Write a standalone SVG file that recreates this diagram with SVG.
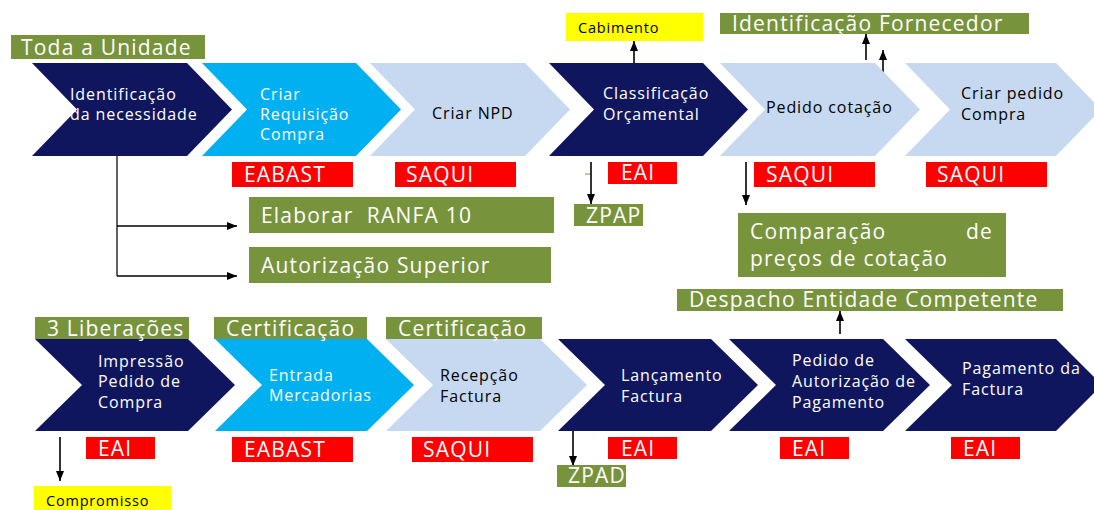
<svg xmlns="http://www.w3.org/2000/svg" width="1094" height="510" viewBox="0 0 1094 510">
  <defs>
    <marker id="ah" markerUnits="userSpaceOnUse" markerWidth="10" markerHeight="10" viewBox="0 0 10 10" refX="10" refY="5" orient="auto">
      <path d="M0,1 L10,5 L0,9 Z" fill="#000"/>
    </marker>
    <style>
      text { font-family: "Open Sans", "Noto Sans", "DejaVu Sans", sans-serif; }
      .navy { fill: #10165e; }
      .cyan { fill: #00b0f0; }
      .pale { fill: #c6d9f1; }
      .green { fill: #77933c; }
      .red { fill: #ff0000; }
      .yellow { fill: #ffff00; }
      .step { font-size: 16px; letter-spacing: 0.9px; }
      .w { fill: #ffffff; }
      .k { fill: #000000; }
      .tag { font-size: 21px; letter-spacing: 1.2px; fill: #ffffff; }
      .sys { font-size: 21px; letter-spacing: 1.2px; fill: #ffffff; }
      .note { font-size: 14.5px; letter-spacing: 0.8px; fill: #000000; }
      .conn { stroke: #000; stroke-width: 1.6; fill: none; }
      .tree { stroke: #3a3a3a; stroke-width: 1.6; fill: none; }
    </style>
  </defs>

  <rect width="1094" height="510" fill="#ffffff"/>

  <!-- connectors -->
  <g id="connectors">
    <path class="tree" d="M117,156 V276"/>
    <path class="conn" d="M117,226 H237" marker-end="url(#ah)"/>
    <path class="conn" d="M117,276 H237" marker-end="url(#ah)"/>
    <path class="conn" d="M634,63 V41" marker-end="url(#ah)"/>
    <path class="conn" d="M866,60 V34" marker-end="url(#ah)"/>
    <path class="conn" d="M883,74 V50" marker-end="url(#ah)"/>
    <path class="conn" d="M591,162 V204" marker-end="url(#ah)"/>
    <path d="M585,174 H590" stroke="#8a8a2a" stroke-width="1"/>
    <path class="conn" d="M746,162 V205" marker-end="url(#ah)"/>
    <path class="conn" d="M60,437 V481" marker-end="url(#ah)"/>
    <path class="conn" d="M573,423 V466" marker-end="url(#ah)"/>
    <path class="conn" d="M840,334 V311" marker-end="url(#ah)"/>
  </g>

  <!-- top row of process steps -->
  <g id="step-identificacao">
    <path class="navy" d="M32,63 H187 L232,109.5 L187,156 H32 L77,109.5 Z"/>
    <text class="step w" x="70" y="100">Identificação</text>
    <text class="step w" x="70" y="120">da necessidade</text>
  </g>
  <g id="step-requisicao">
    <path class="cyan" d="M202,63 H356 L401,109.5 L356,156 H202 L247,109.5 Z"/>
    <text class="step w" x="260" y="100">Criar</text>
    <text class="step w" x="260" y="120">Requisição</text>
    <text class="step w" x="260" y="140">Compra</text>
  </g>
  <g id="step-npd">
    <path class="pale" d="M370,63 H525 L570,109.5 L525,156 H370 L415,109.5 Z"/>
    <text class="step k" x="432" y="119">Criar NPD</text>
  </g>
  <g id="step-classificacao">
    <path class="navy" d="M549,63 H703 L748,109.5 L703,156 H549 L594,109.5 Z"/>
    <text class="step w" x="603" y="99">Classificação</text>
    <text class="step w" x="603" y="120">Orçamental</text>
  </g>
  <g id="step-cotacao">
    <path class="pale" d="M720,63 H875 L920,109.5 L875,156 H720 L765,109.5 Z"/>
    <text class="step k" x="766" y="113">Pedido cotação</text>
  </g>
  <g id="step-pedido-compra">
    <path class="pale" d="M905,63 H1056 L1101,109.5 L1056,156 H905 L950,109.5 Z"/>
    <text class="step k" x="961" y="99">Criar pedido</text>
    <text class="step k" x="961" y="120">Compra</text>
  </g>

  <!-- top row labels -->
  <g id="tag-toda-unidade">
    <rect class="green" x="11" y="35" width="194" height="24"/>
    <text class="tag" x="21" y="55">Toda a Unidade</text>
  </g>
  <g id="tag-cabimento">
    <rect class="yellow" x="566" y="13" width="137" height="28"/>
    <text class="note" x="578" y="33">Cabimento</text>
  </g>
  <g id="tag-fornecedor">
    <rect class="green" x="720" y="13" width="309" height="21"/>
    <text class="tag" x="732" y="31">Identificação Fornecedor</text>
  </g>
  <g id="sys-eabast-1">
    <rect class="red" x="232" y="162" width="121" height="25"/>
    <text class="sys" x="244" y="182">EABAST</text>
  </g>
  <g id="sys-saqui-1">
    <rect class="red" x="395" y="162" width="121" height="25"/>
    <text class="sys" x="406" y="182">SAQUI</text>
  </g>
  <g id="sys-eai-1">
    <rect class="red" x="608" y="162" width="69" height="22"/>
    <text class="sys" x="621" y="180">EAI</text>
  </g>
  <g id="sys-saqui-2">
    <rect class="red" x="754" y="162" width="121" height="25"/>
    <text class="sys" x="766" y="182">SAQUI</text>
  </g>
  <g id="sys-saqui-3">
    <rect class="red" x="926" y="162" width="121" height="25"/>
    <text class="sys" x="937" y="182">SAQUI</text>
  </g>
  <g id="tag-ranfa">
    <rect class="green" x="249" y="197" width="305" height="36"/>
    <text class="tag" x="261" y="223" xml:space="preserve">Elaborar  RANFA 10</text>
  </g>
  <g id="tag-autorizacao">
    <rect class="green" x="249" y="247" width="302" height="36"/>
    <text class="tag" x="261" y="273">Autorização Superior</text>
  </g>
  <g id="tag-zpap">
    <rect class="green" x="574" y="204" width="69" height="22"/>
    <text class="tag" x="586" y="223">ZPAP</text>
  </g>
  <g id="tag-comparacao">
    <rect class="green" x="738" y="213" width="268" height="64"/>
    <text class="tag" x="750" y="239">Comparação</text>
    <text class="tag" x="993" y="239" text-anchor="end">de</text>
    <text class="tag" x="750" y="266">preços de cotação</text>
  </g>

  <!-- bottom row of process steps -->
  <g id="step-impressao">
    <path class="navy" d="M35,339 H188 L235,385 L188,431 H35 L82,385 Z"/>
    <text class="step w" x="98" y="367">Impressão</text>
    <text class="step w" x="98" y="387">Pedido de</text>
    <text class="step w" x="98" y="408">Compra</text>
  </g>
  <g id="step-entrada">
    <path class="cyan" d="M215,339 H367 L414,385 L367,431 H215 L262,385 Z"/>
    <text class="step w" x="269" y="381">Entrada</text>
    <text class="step w" x="269" y="401">Mercadorias</text>
  </g>
  <g id="step-recepcao">
    <path class="pale" d="M386,339 H540 L587,385 L540,431 H386 L433,385 Z"/>
    <text class="step k" x="440" y="381">Recepção</text>
    <text class="step k" x="440" y="402">Factura</text>
  </g>
  <g id="step-lancamento">
    <path class="navy" d="M558,339 H711 L758,385 L711,431 H558 L605,385 Z"/>
    <text class="step w" x="621" y="381">Lançamento</text>
    <text class="step w" x="621" y="402">Factura</text>
  </g>
  <g id="step-autorizacao-pagamento">
    <path class="navy" d="M729,339 H883 L930,385 L883,431 H729 L776,385 Z"/>
    <text class="step w" x="792" y="366">Pedido de</text>
    <text class="step w" x="792" y="387">Autorização de</text>
    <text class="step w" x="792" y="408">Pagamento</text>
  </g>
  <g id="step-pagamento">
    <path class="navy" d="M905,339 H1056 L1102,385 L1056,431 H905 L952,385 Z"/>
    <text class="step w" x="962" y="374">Pagamento da</text>
    <text class="step w" x="962" y="395">Factura</text>
  </g>

  <!-- bottom row labels -->
  <g id="tag-liberacoes">
    <rect class="green" x="35" y="317" width="154" height="22"/>
    <text class="tag" x="47" y="336">3 Liberações</text>
  </g>
  <g id="tag-certificacao-1">
    <rect class="green" x="214" y="317" width="153" height="22"/>
    <text class="tag" x="226" y="336">Certificação</text>
  </g>
  <g id="tag-certificacao-2">
    <rect class="green" x="386" y="317" width="156" height="22"/>
    <text class="tag" x="398" y="336">Certificação</text>
  </g>
  <g id="tag-despacho">
    <rect class="green" x="677" y="289" width="386" height="22"/>
    <text class="tag" x="689" y="307">Despacho Entidade Competente</text>
  </g>
  <g id="sys-eai-2">
    <rect class="red" x="86" y="437" width="69" height="22"/>
    <text class="sys" x="98" y="456">EAI</text>
  </g>
  <g id="sys-eabast-2">
    <rect class="red" x="232" y="437" width="121" height="25"/>
    <text class="sys" x="244" y="457">EABAST</text>
  </g>
  <g id="sys-saqui-4">
    <rect class="red" x="412" y="437" width="121" height="25"/>
    <text class="sys" x="423" y="457">SAQUI</text>
  </g>
  <g id="sys-eai-3">
    <rect class="red" x="608" y="437" width="69" height="22"/>
    <text class="sys" x="621" y="456">EAI</text>
  </g>
  <g id="sys-eai-4">
    <rect class="red" x="780" y="437" width="69" height="22"/>
    <text class="sys" x="792" y="456">EAI</text>
  </g>
  <g id="sys-eai-5">
    <rect class="red" x="951" y="437" width="69" height="22"/>
    <text class="sys" x="963" y="456">EAI</text>
  </g>
  <g id="tag-zpad">
    <rect class="green" x="557" y="465" width="69" height="22"/>
    <text class="tag" x="568" y="483">ZPAD</text>
  </g>
  <g id="tag-compromisso">
    <rect class="yellow" x="34" y="486" width="137" height="24"/>
    <text class="note" x="46" y="506">Compromisso</text>
  </g>
</svg>
